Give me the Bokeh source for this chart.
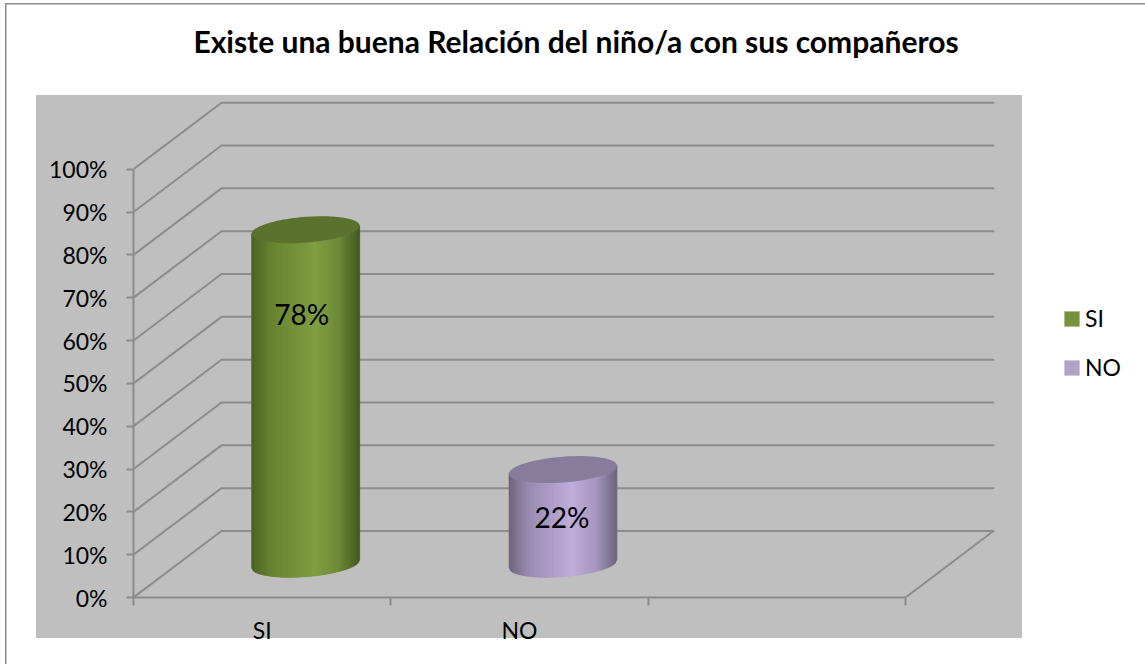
import math
from bokeh.plotting import figure
from bokeh.embed import file_html
from bokeh.resources import INLINE
from bokeh.models import (Range1d, LinearAxis, FixedTicker, Legend, LegendItem)
from bokeh.core.properties import value as fixed

# ---- data ----
TITLE = "Existe una buena Relación del niño/a con sus compañeros"
categories = ["SI", "NO"]
percent_values = [78, 22]
value_labels = ["78%", "22%"]
y_ticks = [0, 10, 20, 30, 40, 50, 60, 70, 80, 90, 100]
y_tick_labels = ["0%", "10%", "20%", "30%", "40%", "50%", "60%", "70%", "80%", "90%", "100%"]
x_boundaries = [0, 1, 2, 3]

# ---- style ----
FONT = "Lato"
INK = "#000000"
GRID = "#8c8c8c"
PANEL = "#bfbfbf"
FRAME = "#8c8c8c"
swatch = ["#76923c", "#b2a1c7"]
cap = ["#5a722e", "#877c9b"]
ramps = [
    [(0.0, "#4a6126"), (0.18, "#67832f"), (0.58, "#7f9f42"), (0.8, "#6f8c39"), (1.0, "#43581f")],
    [(0.0, "#6d6480"), (0.18, "#9a8cb0"), (0.58, "#bfaedb"), (0.8, "#a899c0"), (1.0, "#6e6582")],
]

# page geometry (pixels) and the oblique depth of the 3-D box
W, H = 1145, 664
PX_LEFT, PX_RIGHT, PX_TOP, PX_BOTTOM = 133, 1145, 0, 597
PX_PER_CAT = 257.33
PX_PER_PCT = 4.283
DEPTH_X = 88 / PX_PER_CAT
DEPTH_Y = 66.5 / PX_PER_PCT
RADIUS_X = 54 / PX_PER_CAT
RADIUS_Y = 12.9 / PX_PER_PCT
TILT_Y = 4.0 / PX_PER_PCT


def hex2rgb(c):
    return tuple(int(c[i:i + 2], 16) for i in (1, 3, 5))


def ramp_colour(ramp, t):
    for (a, ca), (b, cb) in zip(ramp, ramp[1:]):
        if t <= b:
            f = (t - a) / (b - a)
            ra, rb = hex2rgb(ca), hex2rgb(cb)
            return "#%02x%02x%02x" % tuple(round(ra[i] + (rb[i] - ra[i]) * f) for i in range(3))
    return ramp[-1][1]


def block(colour, x, y, w, h):
    return f"linear-gradient({colour},{colour}) {x}px {y}px / {w}px {h}px no-repeat"


page_background = ", ".join([
    block(FRAME, 5, 3, 1140, 1.5),
    block(FRAME, 5, 3, 1.5, 661),
    block(PANEL, 36, 95, 986, 543),
])

p = figure(
    width=W, height=H, output_backend="svg", toolbar_location=None,
    x_range=Range1d(0, (PX_RIGHT - PX_LEFT) / PX_PER_CAT),
    y_range=Range1d(0, (PX_BOTTOM - PX_TOP) / PX_PER_PCT),
    min_border_left=PX_LEFT, min_border_right=W - PX_RIGHT,
    min_border_top=PX_TOP, min_border_bottom=H - PX_BOTTOM,
    x_axis_location=None, y_axis_location=None,
    styles={"position": "absolute", "left": "0px", "top": "0px", "background": page_background},
)
p.grid.visible = False
p.outline_line_color = None
p.background_fill_alpha = 0
p.border_fill_alpha = 0

# walls: diagonal + back line for every tick
back_right = x_boundaries[-1] + DEPTH_X
p.multi_line(
    xs=[[x_boundaries[0], DEPTH_X, back_right] for _ in y_ticks],
    ys=[[v, v + DEPTH_Y, v + DEPTH_Y] for v in y_ticks],
    line_color=GRID, line_width=2, line_join="round", line_cap="round")
p.segment(x0=[x_boundaries[-1]], y0=[0], x1=[back_right], y1=[DEPTH_Y], line_color=GRID, line_width=2, line_cap="round")

# cylinders
legend_items = []
STEPS = 54
for i, (cat, val, lab) in enumerate(zip(categories, percent_values, value_labels)):
    cx = i + 0.5 + DEPTH_X / 2 - 0.5 / PX_PER_CAT
    base = DEPTH_Y / 2 + 0.1
    top = base + val

    def front(level, t):
        return level + TILT_Y * math.cos(t) - RADIUS_Y * math.sin(t)

    def back(level, t):
        return level + TILT_Y * math.cos(t) + RADIUS_Y * math.sin(t)

    ts = [math.pi * (1 - k / 200) for k in range(201)]
    body_x = [cx + RADIUS_X * math.cos(t) for t in ts]
    outline_x = body_x + body_x[::-1]
    outline_y = [front(top, t) for t in ts] + [front(base, t) for t in ts[::-1]]
    body = p.patch(outline_x, outline_y, fill_color=swatch[i], line_alpha=0)

    xs, ys, cols = [], [], []
    for s in range(STEPS):
        x0 = -1 + 2 * s / STEPS
        x1 = -1 + 2 * (s + 1) / STEPS
        t0, t1 = math.acos(x0), math.acos(x1)
        xs.append([cx + RADIUS_X * x0, cx + RADIUS_X * x1, cx + RADIUS_X * x1, cx + RADIUS_X * x0])
        ys.append([front(top, t0), front(top, t1), front(base, t1), front(base, t0)])
        cols.append(ramp_colour(ramps[i], (s + 0.5) / STEPS))
    p.patches(xs, ys, fill_color=cols, line_color=cols, line_width=0.6)

    cap_ts = [2 * math.pi * k / 120 for k in range(120)]
    p.patch([cx + RADIUS_X * math.cos(t) for t in cap_ts],
            [back(top, t) for t in cap_ts], fill_color=cap[i], line_alpha=0)

    p.text([cx - val * 0.0002], [val * 0.85], text=[lab], text_font=fixed(FONT), text_font_size="28px",
           text_color=INK, text_align="center", text_baseline="middle")
    legend_items.append(LegendItem(label=cat, renderers=[body]))

# axes
y_axis = LinearAxis(ticker=FixedTicker(ticks=y_ticks), bounds=(0, 100),
                    major_label_overrides=dict(zip(y_ticks, y_tick_labels)))
y_axis.axis_line_color = GRID
y_axis.axis_line_width = 2
y_axis.major_tick_line_color = GRID
y_axis.major_tick_line_width = 2
y_axis.major_tick_in = 0
y_axis.major_tick_out = 7
y_axis.minor_tick_line_color = None
y_axis.major_label_standoff = 19
y_axis.major_label_text_font = FONT
y_axis.major_label_text_font_size = "23px"
y_axis.major_label_text_color = INK
p.add_layout(y_axis, "left")

x_axis = LinearAxis(ticker=FixedTicker(ticks=[i + 0.5 for i in range(len(categories))], minor_ticks=x_boundaries),
                    bounds=(x_boundaries[0], x_boundaries[-1]),
                    major_label_overrides={i + 0.5: c for i, c in enumerate(categories)})
x_axis.axis_line_color = GRID
x_axis.axis_line_width = 2
x_axis.major_tick_line_color = None
x_axis.major_tick_in = 0
x_axis.major_tick_out = 0
x_axis.minor_tick_line_color = GRID
x_axis.minor_tick_line_width = 2
x_axis.minor_tick_in = 0
x_axis.minor_tick_out = 8
x_axis.major_label_standoff = 10
x_axis.major_label_text_font = FONT
x_axis.major_label_text_font_size = "23px"
x_axis.major_label_text_color = INK
p.add_layout(x_axis, "below")

legend = Legend(items=legend_items, location=(929, 216), orientation="vertical",
                glyph_width=19, glyph_height=19, label_standoff=4, spacing=21, padding=0, margin=0,
                background_fill_alpha=0, border_line_alpha=0,
                label_text_font=FONT, label_text_font_size="23px", label_text_color=INK,
                label_height=17)
p.add_layout(legend, "center")

# chart title, centred over the plot panel
p.text([(575.5 - PX_LEFT) / PX_PER_CAT], [(PX_BOTTOM - 40) / PX_PER_PCT], text=[TITLE],
       text_font=fixed(FONT), text_font_style="bold", text_font_size="30px",
       text_color=INK, text_align="center", text_baseline="middle")

open("out.html", "w").write(file_html(p, INLINE))
